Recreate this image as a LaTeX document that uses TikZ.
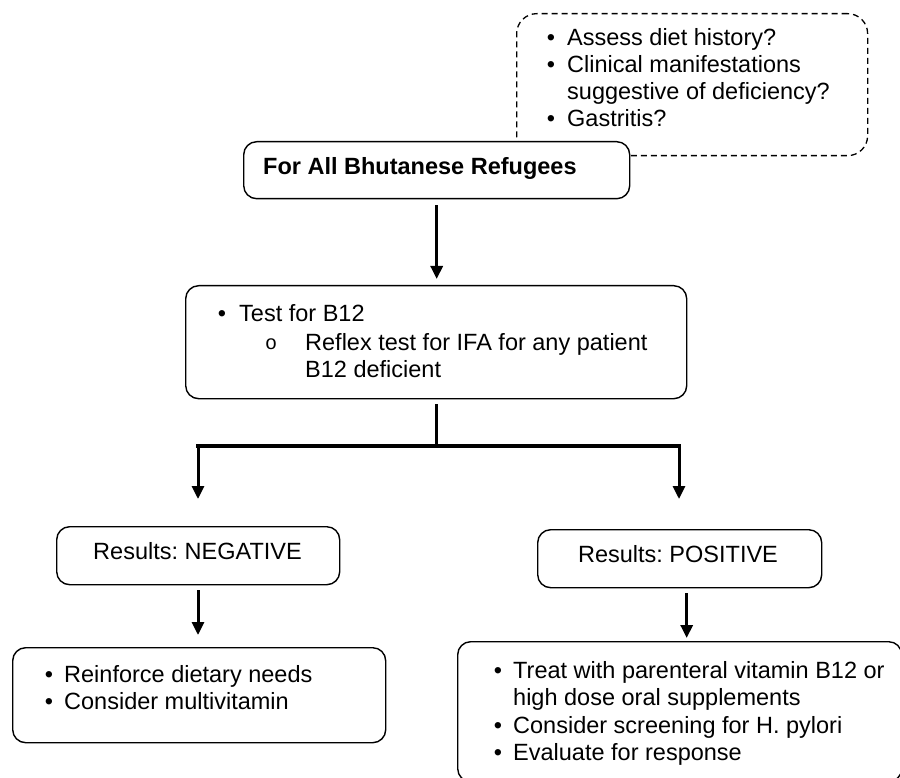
\documentclass[tikz,border=0pt]{standalone}
\usepackage{fontspec}
\setmainfont{Liberation Sans}
\newfontfamily\monof{Liberation Mono}
\usetikzlibrary{arrows.meta}
\newcommand{\fsz}{\fontsize{23.5}{27}\selectfont}
\frenchspacing
\begin{document}
\frenchspacing
\begin{tikzpicture}[x=1pt,y=-1pt,
  box/.style={draw=black,line width=1.4pt,rounded corners=13pt,fill=white,inner sep=0pt,anchor=north west},
  dbox/.style={draw=black,line width=1.3pt,dash pattern=on 6pt off 4pt,rounded corners=20pt,inner sep=0pt,anchor=north west},
  txt/.style={anchor=base west,inner sep=0pt,font=\fsz},
  ctxt/.style={anchor=base,inner sep=0pt,font=\fsz},
  bul/.style={anchor=base,inner sep=0pt,font=\fsz},
  arr/.style={line width=3pt,-{Triangle[width=12pt,length=13pt]}},
  barline/.style={line width=4pt,line cap=rect}]
\useasboundingbox (0,0) rectangle (900,778);
\fill[white] (0,0) rectangle (900,778);

% boxes
\node[dbox,minimum width=351pt,minimum height=142pt] (note) at (516,13) {};
\node[box,minimum width=386pt,minimum height=57pt] (top) at (243,141) {};
\node[box,minimum width=501pt,minimum height=113pt] (test) at (185,285) {};
\node[box,minimum width=283pt,minimum height=58pt] (neg) at (56,526) {};
\node[box,minimum width=284pt,minimum height=58pt] (pos) at (537,529) {};
\node[box,minimum width=373pt,minimum height=95pt] (lb) at (12,647) {};
\node[box,minimum width=444pt,minimum height=140pt] (rb) at (457,641) {};

% note text
\node[bul] (nb1) at (551,46) {•};
\node[txt] (nt1) at (567,46) {Assess diet history?};
\node[bul] (nb2) at (551,73) {•};
\node[txt] (nt2) at (567,73) {Clinical manifestations};
\node[txt] (nt3) at (567,100) {suggestive of deficiency?};
\node[bul] (nb3) at (551,127) {•};
\node[txt] (nt4) at (567,127) {Gastritis?};

% top text
\node[txt,font={\fsz\bfseries}] (ttop) at (263,175) {For All Bhutanese Refugees};

% test text
\node[bul] (tb1) at (222,321) {•};
\node[txt] (tt1) at (239,321) {Test for B12};
\node[bul,font={\monof\fontsize{20}{24}\selectfont}] (tb2) at (271,349) {o};
\node[txt] (tt2) at (305,350) {Reflex test for IFA for any patient};
\node[txt] (tt3) at (305,377) {B12 deficient};

% results
\node[ctxt] (negt) at (197.5,559.5) {Results: NEGATIVE};
\node[ctxt] (post) at (678,562) {Results: POSITIVE};

% left bottom text
\node[bul] (lb1) at (49,682) {•};
\node[txt] (lt1) at (64,682) {Reinforce dietary needs};
\node[bul] (lb2) at (49,709) {•};
\node[txt] (lt2) at (64,709) {Consider multivitamin};

% right bottom text
\node[bul] (rb1) at (498,678) {•};
\node[txt] (rt1) at (513,678) {Treat with parenteral vitamin B12 or};
\node[txt] (rt2) at (513,705) {high dose oral supplements};
\node[bul] (rb2) at (498,733) {•};
\node[txt] (rt3) at (513,733) {Consider screening for H. pylori};
\node[bul] (rb3) at (498,760) {•};
\node[txt] (rt4) at (513,760) {Evaluate for response};

% connectors
\coordinate (j) at (436,446);
\coordinate (jl) at (198,446);
\coordinate (jr) at (679,446);
\draw[arr,shorten <=6pt,shorten >=6pt] (top.south) -- (top.south |- test.north);
\draw[line width=3pt,shorten <=5pt] (test.south -| j) -- (j);
\draw[barline] (jl) -- (jr);
\draw[arr,shorten >=27pt] (jl) -- (jl |- neg.north);
\draw[arr,shorten >=30pt] (jr) -- (jr |- pos.north);
\draw[arr,shorten <=5pt,shorten >=12pt] (neg.south -| jl) -- (jl |- lb.north);
\draw[arr,shorten <=5pt,shorten >=3pt] ([xshift=7pt]pos.south) -- ([xshift=7pt]pos.south |- rb.north);
\end{tikzpicture}
\end{document}
